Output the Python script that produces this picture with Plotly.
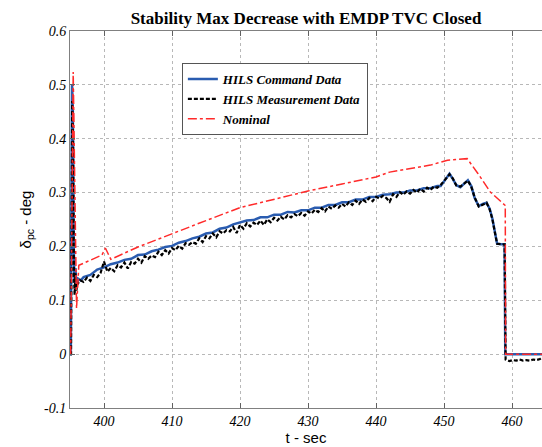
import plotly.graph_objects as go

# ---- data -------------------------------------------------------------
cmd_t = [395.0, 395.12, 395.3, 395.42, 395.55, 395.66, 395.8, 395.95, 396.2, 396.6,
         397, 398, 399, 400, 401, 402, 403, 404, 405, 406, 407, 408, 409, 410,
         411, 412, 413, 414, 415, 416, 417, 418, 419, 420, 421, 422, 423, 424, 425,
         426, 427, 428, 429, 430, 431, 432, 433, 434, 435, 436, 437, 438, 439, 440,
         441, 442, 443, 444, 445, 446, 447, 448, 449, 449.5, 450.0, 450.5, 450.8,
         451.3, 451.8, 452.4, 453.0, 453.5, 454.0, 454.5, 455.1, 455.7, 456.25,
         456.7, 457.1, 457.5, 457.8, 458.4, 458.9, 459.0, 464.4]
cmd_v = [0.000, 0.000, 0.500, 0.450, 0.200, 0.132, 0.160, 0.125, 0.140, 0.137,
         0.143, 0.147, 0.157, 0.161, 0.167, 0.170, 0.175, 0.177, 0.184, 0.185, 0.191, 0.194, 0.199, 0.201,
         0.207, 0.210, 0.215, 0.218, 0.224, 0.226, 0.233, 0.235, 0.241, 0.244, 0.248, 0.249, 0.254, 0.254, 0.259,
         0.259, 0.264, 0.263, 0.267, 0.267, 0.272, 0.272, 0.277, 0.277, 0.282, 0.282, 0.287, 0.287, 0.292, 0.292,
         0.296, 0.297, 0.300, 0.300, 0.304, 0.304, 0.308, 0.308, 0.312, 0.312, 0.320, 0.330, 0.335,
         0.325, 0.314, 0.310, 0.318, 0.323, 0.312, 0.290, 0.275, 0.279, 0.281,
         0.270, 0.252, 0.225, 0.205, 0.204, 0.204, 0.000, 0.000]

meas_t = [395.0, 395.15, 395.32, 395.45, 395.58, 395.68, 395.8, 395.95,
          396.0, 396.5, 397.0, 397.5, 398.0, 398.5, 399.0, 399.5, 400.0, 400.5,
          401.0, 401.5, 402.0, 402.5, 403.0, 403.5, 404.0, 404.5, 405.0, 405.5,
          406.0, 406.5, 407.0, 407.5, 408.0, 408.5, 409.0, 409.5, 410.0, 410.5,
          411.0, 411.5, 412.0, 412.5, 413.0, 413.5, 414.0, 414.5, 415.0, 415.5,
          416.0, 416.5, 417.0, 417.5, 418.0, 418.5, 419.0, 419.5, 420.0, 420.5,
          421.0, 421.5, 422.0, 422.5, 423.0, 423.5, 424.0, 424.5, 425.0, 425.5,
          426.0, 426.5, 427.0, 427.5, 428.0, 428.5, 429.0, 429.5, 430.0, 430.5,
          431.0, 431.5, 432.0, 432.5, 433.0, 433.5, 434.0, 434.5, 435.0, 435.5,
          436.0, 436.5, 437.0, 437.5, 438.0, 438.5, 439.0, 439.5, 440.0, 440.5,
          441.0, 441.5, 442.0, 442.5, 443.0, 443.5, 444.0, 444.5, 445.0, 445.5,
          446.0, 446.5, 447.0, 447.5, 448.0, 448.5, 449.0, 449.5, 450.0, 450.5,
          450.8, 451.3, 451.8, 452.4, 453.0, 453.5, 454.0, 454.5, 455.1, 455.7,
          456.25, 456.7, 457.1, 457.5, 457.8, 458.4, 458.9, 459.05, 459.6, 460.1,
          460.6, 461.1, 461.6, 462.1, 462.6, 463.1, 463.6, 464.1, 464.4]
meas_v = [0.000, 0.000, 0.470, 0.400, 0.150, 0.110, 0.150, 0.118,
          0.128, 0.137, 0.134, 0.142, 0.136, 0.147, 0.143, 0.151, 0.172, 0.153,
          0.160, 0.154, 0.165, 0.161, 0.170, 0.159, 0.171, 0.168, 0.177, 0.170,
          0.182, 0.177, 0.183, 0.180, 0.190, 0.184, 0.193, 0.187, 0.197, 0.193,
          0.201, 0.196, 0.206, 0.203, 0.208, 0.205, 0.215, 0.208, 0.219, 0.215,
          0.224, 0.217, 0.228, 0.224, 0.230, 0.228, 0.236, 0.225, 0.240, 0.233,
          0.243, 0.237, 0.244, 0.240, 0.248, 0.240, 0.250, 0.245, 0.253, 0.248,
          0.255, 0.250, 0.258, 0.254, 0.260, 0.256, 0.262, 0.257, 0.265, 0.261,
          0.268, 0.264, 0.271, 0.265, 0.274, 0.270, 0.276, 0.272, 0.279, 0.274,
          0.282, 0.277, 0.285, 0.279, 0.287, 0.283, 0.290, 0.284, 0.292, 0.289,
          0.294, 0.290, 0.283, 0.297, 0.292, 0.301, 0.296, 0.302, 0.298, 0.305,
          0.300, 0.307, 0.302, 0.309, 0.305, 0.311, 0.309, 0.314, 0.322, 0.331,
          0.334, 0.326, 0.313, 0.311, 0.317, 0.322, 0.311, 0.291, 0.274, 0.278,
          0.281, 0.269, 0.251, 0.224, 0.205, 0.204, 0.204, -0.010, -0.013, -0.011,
          -0.012, -0.010, -0.012, -0.011, -0.012, -0.010, -0.011, -0.009, -0.006]

nom_t = [395.0, 395.1, 395.47, 395.75, 395.96, 396.3, 397.5, 398.75, 399.7, 400.2,
         401.0, 405.0, 410.0, 415.0, 420.0, 425.0, 430.0, 435.0, 440.0, 442.0,
         445.0, 448.0, 450.5, 453.4, 455.0, 456.8, 459.0, 459.05, 464.4]
nom_v = [0.000, 0.000, 0.524, 0.250, 0.085, 0.165, 0.172, 0.178, 0.184, 0.197,
         0.176, 0.199, 0.224, 0.248, 0.272, 0.288, 0.303, 0.316, 0.329, 0.338,
         0.344, 0.351, 0.360, 0.363, 0.335, 0.301, 0.276, 0.000, 0.000]

x_ticks = [400, 410, 420, 430, 440, 450, 460]
x_labels = ["400", "410", "420", "430", "440", "450", "460"]
y_ticks = [-0.1, 0.0, 0.1, 0.2, 0.3, 0.4, 0.5, 0.6]
y_labels = ["-0.1", "0", "0.1", "0.2", "0.3", "0.4", "0.5", "0.6"]

# ---- figure -----------------------------------------------------------
fig = go.Figure()
fig.add_trace(go.Scatter(x=cmd_t, y=cmd_v, mode="lines", name="HILS Command Data",
                         line=dict(color="#2a5cb0", width=2.5)))
fig.add_trace(go.Scatter(x=meas_t, y=meas_v, mode="lines", name="HILS Measurement Data",
                         line=dict(color="black", width=2.2, dash="4px,2px")))
fig.add_trace(go.Scatter(x=nom_t, y=nom_v, mode="lines", name="Nominal",
                         line=dict(color="#ff2a2a", width=1.5, dash="dashdot")))

tick_font = dict(family="Liberation Serif", size=14, color="black", style="italic")
axis_common = dict(showgrid=True, gridcolor="#b8b8b8", griddash="dot", gridwidth=1,
                   zeroline=False, showline=True, linecolor="#808080", linewidth=1,
                   ticks="inside", ticklen=5, tickcolor="#606060", tickfont=tick_font)

fig.update_layout(
    width=542, height=447,
    margin=dict(l=70, r=0, t=31, b=39),
    paper_bgcolor="white", plot_bgcolor="white",
    title=dict(text="Stability Max Decrease with EMDP TVC Closed",
               font=dict(family="Liberation Serif", size=17, color="black", weight="bold"),
               x=0.5, xref="paper", xanchor="center", y=1, yref="paper",
               yanchor="bottom", pad=dict(b=7)),
    xaxis=dict(range=[395, 464.4], tickvals=x_ticks, ticktext=x_labels,
               mirror="ticks",
               title=dict(text="t - sec", standoff=4,
                          font=dict(family="Liberation Sans", size=15, color="black")),
               **axis_common),
    yaxis=dict(range=[-0.1, 0.6], tickvals=y_ticks, ticktext=y_labels,
               mirror=False,
               title=dict(text="δ<sub>pc</sub> - deg", standoff=8,
                          font=dict(family="Liberation Sans", size=15, color="black")),
               **axis_common),
    legend=dict(x=0.237, y=0.915, xanchor="left", yanchor="top",
                bgcolor="white", bordercolor="#555555", borderwidth=1,
                font=dict(family="Liberation Serif", size=13, color="black",
                          style="italic", weight="bold"),
                tracegroupgap=0, itemwidth=30),
    showlegend=True,
)

fig.write_html("out.html")
